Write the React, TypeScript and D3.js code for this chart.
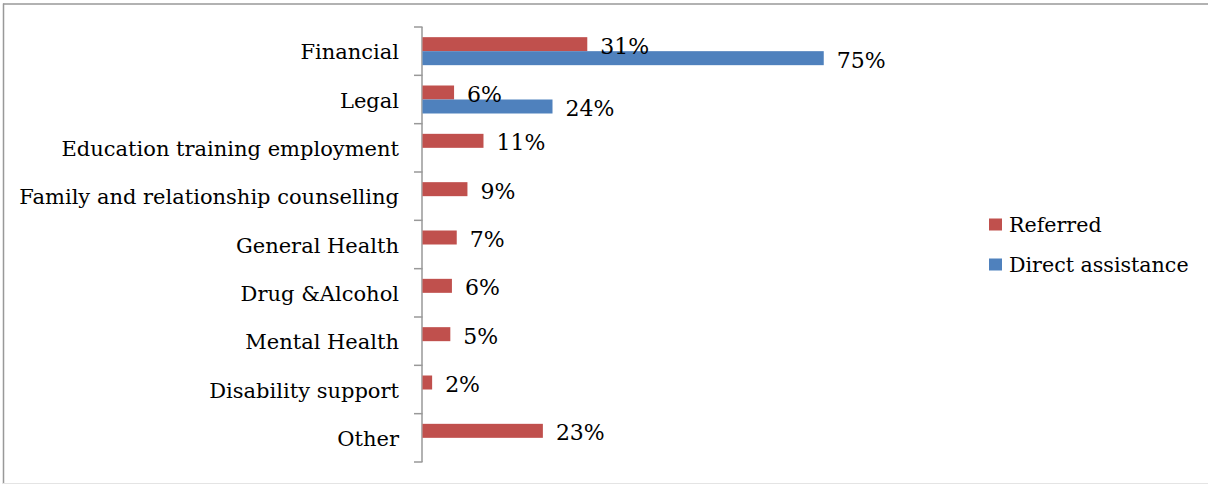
import React from "react";
import * as d3 from "d3";

const categories = [
  "Financial",
  "Legal",
  "Education training employment",
  "Family and relationship counselling",
  "General Health",
  "Drug &Alcohol",
  "Mental Health",
  "Disability support",
  "Other",
];
const referred = [0.308, 0.059, 0.114, 0.084, 0.064, 0.055, 0.052, 0.018, 0.225];
const referredLabels = ["31%", "6%", "11%", "9%", "7%", "6%", "5%", "2%", "23%"];
const direct: (number | null)[] = [0.75, 0.243, null, null, null, null, null, null, null];
const directLabels: (string | null)[] = ["75%", "24%", null, null, null, null, null, null, null];
const seriesNames = ["Referred", "Direct assistance"];
const seriesColors = ["#C0504D", "#4F81BD"];

const W = 1208;
const H = 485;
const FONT = "'DejaVu Serif', serif";

export default function App() {
  const axisX = 422.5;
  const x = d3.scaleLinear().domain([0, 0.8]).range([axisX, axisX + 428]);
  const y = d3.scaleBand<string>().domain(categories).range([27, 462]);
  const inner = d3
    .scaleBand<string>()
    .domain(seriesNames)
    .range([y.bandwidth() / 2 - 14, y.bandwidth() / 2 + 14]);
  const ticks = d3.range(categories.length + 1).map((i) => 27 + i * y.step());

  return (
    <svg width={W} height={H} style={{ position: "absolute", left: 0, top: 0, background: "#fff" }} fontFamily={FONT}>
      <rect x={0} y={0} width={W} height={H} fill="#fff" />
      <line x1={3} x2={W} y1={4} y2={4} stroke="#999" strokeWidth={1.5} />
      <line x1={3.5} x2={3.5} y1={3.5} y2={484} stroke="#999" strokeWidth={1.5} />
      <line x1={3} x2={W} y1={483.5} y2={483.5} stroke="#e4e4e4" strokeWidth={1} />
      <line x1={axisX - 0.5} x2={axisX - 0.5} y1={27} y2={462} stroke="#999" strokeWidth={1.5} />
      {ticks.map((t, i) => (
        <line key={i} x1={axisX - 8.5} x2={axisX} y1={t} y2={t} stroke="#999" strokeWidth={1.5} />
      ))}
      {categories.map((c) => (
        <text key={c} x={399} y={(y(c) ?? 0) + y.bandwidth() / 2 + 1} textAnchor="end" dominantBaseline="central" fontSize={21} fill="#000">
          {c}
        </text>
      ))}
      {categories.map((c, i) => {
        const y0 = y(c) ?? 0;
        const yr = y0 + (inner("Referred") ?? 0);
        const yd = y0 + (inner("Direct assistance") ?? 0);
        const h = inner.bandwidth();
        const d = direct[i];
        return (
          <g key={c}>
            <rect x={x(0)} y={yr} width={x(referred[i]) - x(0)} height={h} fill={seriesColors[0]} />
            {d != null && <rect x={x(0)} y={yd} width={x(d) - x(0)} height={h} fill={seriesColors[1]} />}
          </g>
        );
      })}
      {categories.map((c, i) => {
        const y0 = y(c) ?? 0;
        const yr = y0 + (inner("Referred") ?? 0) + inner.bandwidth() / 2;
        const yd = y0 + (inner("Direct assistance") ?? 0) + inner.bandwidth() / 2;
        const d = direct[i];
        return (
          <g key={c}>
            <text x={x(referred[i]) + 13} y={yr + 2} dominantBaseline="central" fontSize={22} fill="#000">
              {referredLabels[i]}
            </text>
            {d != null && (
              <text x={x(d) + 13} y={yd + 2} dominantBaseline="central" fontSize={22} fill="#000">
                {directLabels[i]}
              </text>
            )}
          </g>
        );
      })}
      {seriesNames.map((s, i) => (
        <g key={s} transform={`translate(989, ${218.5 + i * 40})`}>
          <rect x={0} y={0} width={13} height={12} fill={seriesColors[i]} />
          <text x={20} y={6} dominantBaseline="central" fontSize={20.6} fill="#000">
            {s}
          </text>
        </g>
      ))}
    </svg>
  );
}
